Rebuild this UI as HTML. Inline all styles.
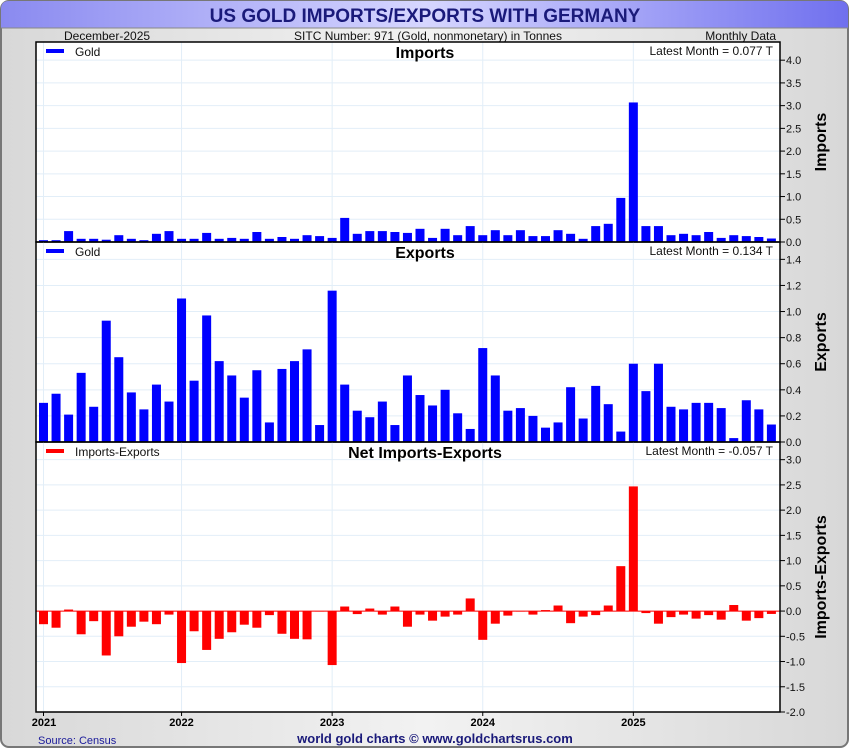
<!DOCTYPE html>
<html><head><meta charset="utf-8"><style>
body{margin:0;background:#fff;}
svg{display:block;font-family:"Liberation Sans",sans-serif;}
</style></head><body>
<svg id="c" width="850" height="750" viewBox="0 0 850 750">
<defs>
<linearGradient id="tg" x1="0" x2="1"><stop offset="0" stop-color="#8a8af0"/><stop offset="0.5" stop-color="#d6d6ff"/><stop offset="1" stop-color="#7070ee"/></linearGradient>
<linearGradient id="bg" x1="0" x2="1"><stop offset="0" stop-color="#d8d8d8"/><stop offset="0.5" stop-color="#f2f2f2"/><stop offset="1" stop-color="#d8d8d8"/></linearGradient>
</defs>
<rect x="1" y="1" width="847" height="746" rx="8" fill="url(#bg)" stroke="#777" stroke-width="2"/>
<path d="M1,28 L1,9 Q1,1 9,1 L840,1 Q848,1 848,9 L848,28 Z" fill="url(#tg)"/>
<line x1="1" y1="28" x2="848" y2="28" stroke="#888"/>
<text x="425" y="22" text-anchor="middle" font-size="19" font-weight="bold" fill="#1a1a7a">US GOLD IMPORTS/EXPORTS WITH GERMANY</text>
<text x="64" y="40" font-size="12" fill="#111">December-2025</text>
<text x="428" y="40" text-anchor="middle" font-size="12" fill="#111">SITC Number: 971 (Gold, nonmonetary) in Tonnes</text>
<text x="776" y="40" text-anchor="end" font-size="12" fill="#111">Monthly Data</text>
<rect x="36" y="42" width="744" height="670" fill="#fff"/>
<g id="g"></g>
<text x="38" y="744" font-size="11" fill="#1a1a9a">Source: Census</text>
<text x="435" y="743" text-anchor="middle" font-size="13" font-weight="bold" fill="#1a1a7a">world gold charts © www.goldchartsrus.com</text>
</svg>
<script>
const imports=[0.04,0.04,0.24,0.07,0.07,0.05,0.15,0.07,0.04,0.18,0.24,0.07,0.07,0.2,0.07,0.09,0.07,0.22,0.07,0.11,0.07,0.15,0.13,0.09,0.53,0.18,0.24,0.24,0.22,0.2,0.29,0.09,0.29,0.15,0.35,0.15,0.26,0.15,0.26,0.13,0.13,0.26,0.18,0.07,0.35,0.4,0.97,3.07,0.35,0.35,0.15,0.18,0.15,0.22,0.09,0.15,0.13,0.11,0.077];
const exports_=[0.30,0.37,0.21,0.53,0.27,0.93,0.65,0.38,0.25,0.44,0.31,1.10,0.47,0.97,0.62,0.51,0.34,0.55,0.15,0.56,0.62,0.71,0.13,1.16,0.44,0.24,0.19,0.31,0.13,0.51,0.36,0.28,0.40,0.22,0.10,0.72,0.51,0.24,0.26,0.20,0.11,0.15,0.42,0.18,0.43,0.29,0.08,0.60,0.39,0.60,0.27,0.25,0.30,0.30,0.26,0.03,0.32,0.25,0.134];
const yearLabels=["2021","2022","2023","2024","2025"];
const yearIdx=[0,11,23,35,47];
const impTicks=[0,0.5,1,1.5,2,2.5,3,3.5,4];
const expTicks=[0,0.2,0.4,0.6,0.8,1.0,1.2,1.4];
const netTicks=[-2,-1.5,-1,-0.5,0,0.5,1,1.5,2,2.5,3];
const net=imports.map((v,i)=>v-exports_[i]);
const NS="http://www.w3.org/2000/svg",G=document.getElementById('g');
function el(t,a,txt){const e=document.createElementNS(NS,t);for(const k in a)e.setAttribute(k,a[k]);if(txt!=null)e.textContent=txt;G.appendChild(e);return e;}
const X0=36,X1=780;
const xOf=i=>43.5+i*12.55;
const panels=[
 {name:'imports',data:imports,ticks:impTicks,top:42,bot:242,min:0,max:4.4,col:'#0000ff',title:'Imports',leg:'Gold',latest:'Latest Month = 0.077 T',ax:'Imports',dec:1},
 {name:'exports',data:exports_,ticks:expTicks,top:242,bot:442,min:0,max:1.533,col:'#0000ff',title:'Exports',leg:'Gold',latest:'Latest Month = 0.134 T',ax:'Exports',dec:1},
 {name:'net',data:net,ticks:netTicks,top:442,bot:712,min:-2,max:3.35,col:'#ff0000',title:'Net Imports-Exports',leg:'Imports-Exports',latest:'Latest Month = -0.057 T',ax:'Imports-Exports',dec:1}];
panels.forEach(p=>{
 const y=v=>p.bot-(v-p.min)/(p.max-p.min)*(p.bot-p.top);
 p.ticks.forEach(t=>{
  let g=el('line',{x1:X0,x2:X1,y1:y(t),y2:y(t),stroke:'#e2eef8','stroke-width':1});
  
  let tk=el('line',{x1:X1,x2:X1+5,y1:y(t),y2:y(t),stroke:'#000'});
  
  let lb=el('text',{x:X1+6,y:y(t)+4,'font-size':11,fill:'#111'},t.toFixed(p.dec));
  
 });
 yearIdx.forEach(i=>{
  let g=el('line',{x1:xOf(i),x2:xOf(i),y1:p.top,y2:p.bot,stroke:'#e2eef8'});
  
 });
 if(p.min<0){let z=el('line',{x1:X0,x2:X1,y1:y(0),y2:y(0),stroke:'#ff0000'});}
 p.data.forEach((v,i)=>{
  const a=y(Math.max(v,0)),b=y(Math.min(v,0));
  let r=el('rect',{x:xOf(i)-4.5,y:a,width:9,height:Math.max(b-a,0.5),fill:p.col});
  
 });
 let bx=el('rect',{x:X0,y:p.top,width:X1-X0,height:p.bot-p.top,fill:'none',stroke:'#000','stroke-width':1.5});
 
 let ls=el('rect',{x:46,y:p.top+7,width:18,height:4,fill:p.col});
 
 let lt=el('text',{x:75,y:p.top+14,'font-size':12,fill:'#111'},p.leg);
 
 let tt=el('text',{x:425,y:p.top+16,'text-anchor':'middle','font-size':16,'font-weight':'bold',fill:'#000'},p.title);
 
 let lm=el('text',{x:773,y:p.top+13,'text-anchor':'end','font-size':12,fill:'#111'},p.latest);
 
 const cy=(p.top+p.bot)/2;
 let at=el('text',{x:826,y:cy,'text-anchor':'middle','font-size':16,'font-weight':'bold',fill:'#000',transform:`rotate(-90 826 ${cy})`},p.ax);
 
});
yearIdx.forEach((i,k)=>{
 let t=el('line',{x1:xOf(i),x2:xOf(i),y1:712,y2:716,stroke:'#000'});
 
 let l=el('text',{x:k===0?44:xOf(i),y:726,'text-anchor':'middle','font-size':11,'font-weight':'bold',fill:'#000'},yearLabels[k]);
 
});
</script>
</body></html>
